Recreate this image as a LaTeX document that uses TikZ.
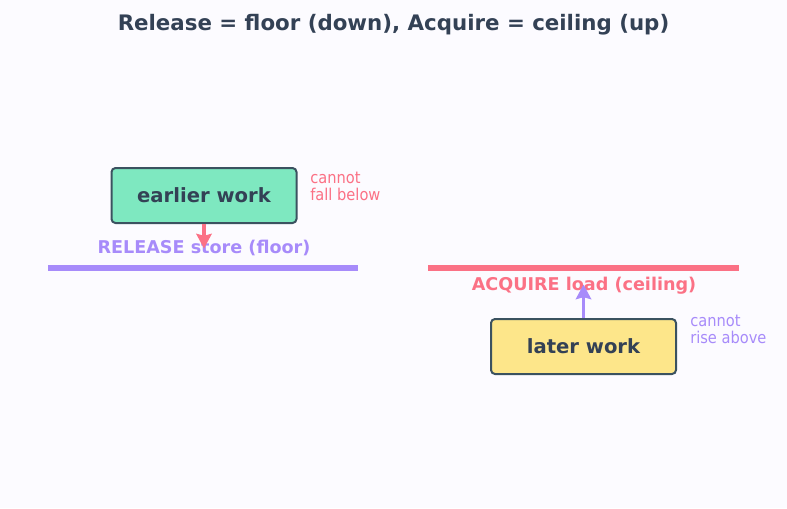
\documentclass[tikz,border=0pt]{standalone}
\usepackage{fontspec}
\setmainfont{DejaVu Sans}
\newfontfamily\notefont{DejaVu Sans Condensed}
\usetikzlibrary{arrows.meta}
\definecolor{ink}{HTML}{334155}
\definecolor{rosey}{HTML}{FB7185}
\definecolor{violet}{HTML}{A78BFA}
\definecolor{mint}{HTML}{7EE8C0}
\definecolor{butter}{HTML}{FDE68A}
\definecolor{paper}{HTML}{FCFBFF}

\begin{document}
\begin{tikzpicture}[x=0.75pt, y=-0.75pt, every node/.style={inner sep=0pt},
    work/.style={draw=ink!90!mint, line width=1.5pt, rounded corners=3pt, minimum width=138.75pt, minimum height=41.25pt, font=\bfseries\fontsize{14.7}{17}\selectfont, text=ink},
    barrier/.style={line width=4.5pt},
    push/.style={line width=2.3pt, -{Stealth[length=11pt, width=11.5pt, inset=1.5pt]}},
    note/.style={font=\notefont\fontsize{12.2}{12.75}\selectfont, align=left, anchor=north west}]
                \fill[paper] (0,0) rectangle (787,508);
                \useasboundingbox (0,0) rectangle (787,508);

                \node[font=\bfseries\fontsize{16}{19}\selectfont, text=ink] (title) at (393.5,25) {Release = floor (down), Acquire = ceiling (up)};

                % release side
                \coordinate (relL) at (48,267.5);
                \coordinate (relR) at (358,267.5);
                \draw[barrier, violet] (relL) -- (relR);
                \node[work, fill=mint] (earlier) at (204,195.5) {earlier work};
                \node[font=\bfseries\fontsize{13.2}{16}\selectfont, text=violet] (relLabel) at (204,248) {RELEASE store (floor)};
                \coordinate (relTip) at (204,248.5);
                \draw[push, rosey] (earlier.south) -- (relTip);
                \node[note, text=rosey] (fall) at (310,172) {cannot\\fall below};

                % acquire side
                \coordinate (acqL) at (428,267.5);
                \coordinate (acqR) at (739,267.5);
                \draw[barrier, rosey] (acqL) -- (acqR);
                \node[work, fill=butter] (later) at (583.5,346.5) {later work};
                \node[font=\bfseries\fontsize{13.2}{16}\selectfont, text=rosey] (acqLabel) at (584,286) {ACQUIRE load (ceiling)};
                \coordinate (acqTip) at (583.5,284.5);
                \draw[push, violet] (later.north) -- (acqTip);
                \node[note, text=violet] (rise) at (690,315) {cannot\\rise above};
            \end{tikzpicture}
\end{document}
